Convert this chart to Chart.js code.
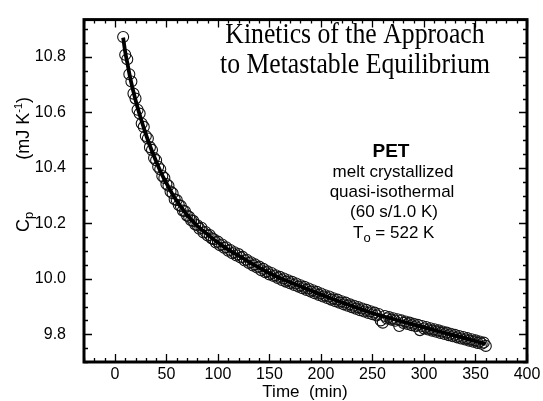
<!DOCTYPE html>
<html>
<head>
<meta charset="utf-8">
<script src="https://cdn.jsdelivr.net/npm/chart.js@4/dist/chart.umd.min.js"></script>
<style>
html,body{margin:0;padding:0;background:#fff;}
canvas{display:block;}
</style>
</head>
<body>
<canvas id="c" width="543" height="401"></canvas>
<script>
// Measured points (time in min, Cp in mJ/K)
const timeMin = [8,10,12,14,16,18,20,22,24,26,28,30,32,34,36,38,40,42,44,46,48,50,52,54,56,58,60,62,64,66,68,70,72,74,76,78,80,82,84,86,88,90,92,94,96,98,100,
102,104,106,108,110,112,114,116,118,120,122,124,126,128,130,132,134,136,138,140,142,144,146,148,150,152,154,156,158,160,162,164,166,168,170,172,174,176,178,180,
182,184,186,188,190,192,194,196,198,200,202,204,206,208,210,212,214,216,218,220,222,224,226,228,230,232,234,236,238,240,242,244,246,248,250,252,254,256,258,260,
262,264,266,268,270,272,274,276,278,280,282,284,286,288,290,292,294,296,298,300,302,304,306,308,310,312,314,316,318,320,322,324,326,328,330,332,334,336,338,340,
342,344,346,348,350,352,354,356,358,360];
const cpMeasured = [10.872,10.808,10.792,10.738,10.712,10.668,10.650,10.610,10.596,10.560,10.548,10.515,10.506,10.475,10.465,10.436,10.428,10.404,10.395,10.371,10.364,10.342,10.336,10.315,10.309,10.287,10.284,10.266,10.263,10.246,10.244,10.228,10.224,10.211,10.209,10.196,10.193,10.181,10.184,10.167,10.169,10.156,10.158,10.146,10.143,10.131,10.134,
10.121,10.124,10.112,10.114,10.101,10.104,10.092,10.096,10.084,10.089,10.077,10.079,10.066,10.069,10.057,10.060,10.048,10.052,10.041,10.044,10.031,10.036,10.024,10.027,10.016,10.021,10.010,10.013,10.003,10.007,9.996,10.001,9.990,9.995,9.984,9.989,9.978,9.983,9.972,9.977,
9.966,9.971,9.960,9.965,9.954,9.959,9.948,9.953,9.942,9.947,9.936,9.941,9.931,9.936,9.925,9.930,9.919,9.925,9.914,9.919,9.908,9.914,9.903,9.908,9.898,9.903,9.892,9.898,9.887,9.893,9.882,9.888,9.877,9.883,9.872,9.878,9.868,9.873,9.850,9.842,
9.866,9.857,9.862,9.853,9.858,9.849,9.854,9.830,9.850,9.841,9.846,9.837,9.842,9.833,9.838,9.829,9.834,9.815,9.830,9.821,9.826,9.817,9.822,9.813,9.818,9.809,9.814,9.805,9.810,9.801,9.806,9.797,9.802,9.793,9.798,9.789,9.794,9.785,9.790,9.781,
9.786,9.777,9.782,9.773,9.778,9.769,9.774,9.766,9.770,9.758];

// Fitted curve
const fitTime = [8,10,12,15,20,25,30,35,40,45,50,55,60,65,70,75,80,85,90,95,100,110,120,130,140,150,160,170,180,190,200,210,220,230,240,250,260,270,280,290,300,310,320,330,340,350,360];
const fitCp = [10.870,10.818,10.780,10.722,10.645,10.580,10.522,10.470,10.424,10.381,10.345,10.311,10.281,10.255,10.231,10.210,10.191,10.175,10.160,10.145,10.131,10.105,10.084,10.061,10.040,10.020,10.003,9.988,9.973,9.958,9.943,9.929,9.915,9.902,9.889,9.876,9.865,9.855,9.845,9.835,9.825,9.815,9.805,9.795,9.785,9.775,9.765];

const xTickLabels = ['0','50','100','150','200','250','300','350','400'];
const yTickLabels = ['9.8','10.0','10.2','10.4','10.6','10.8'];

const scatterPts = timeMin.map((t,i)=>({x:t,y:cpMeasured[i]}));
const fitPts = fitTime.map((t,i)=>({x:t,y:fitCp[i]}));

const SANS = '"Liberation Sans", Arial, sans-serif';
const SERIF = '"Liberation Serif", "DejaVu Serif", serif';

const decor = {
  id:'decor',
  afterDraw(chart){
    const ctx = chart.ctx;
    const a = chart.chartArea;
    const xs = chart.scales.x, ys = chart.scales.y;
    ctx.save();
    ctx.strokeStyle = '#000';
    // inward ticks
    ctx.lineWidth = 1.3;
    ctx.beginPath();
    for (let v = -30; v <= 400; v += 10) {
      const px = Math.round(xs.getPixelForValue(v)) + 0.5;
      const len = (v % 50 === 0) ? 8 : 4;
      ctx.moveTo(px, a.bottom); ctx.lineTo(px, a.bottom - len);
      ctx.moveTo(px, a.top); ctx.lineTo(px, a.top + len);
    }
    for (let k = 0; k * 0.05 + 9.70 <= 10.94; k++) {
      const v = 9.70 + k * 0.05;
      const py = Math.round(ys.getPixelForValue(v)) + 0.5;
      const len = (k % 4 === 2) ? 8 : 4;
      ctx.moveTo(a.left, py); ctx.lineTo(a.left + len, py);
      ctx.moveTo(a.right, py); ctx.lineTo(a.right - len, py);
    }
    ctx.stroke();
    // frame
    ctx.lineWidth = 3;
    ctx.strokeRect(a.left, a.top, a.right - a.left, a.bottom - a.top);

    ctx.fillStyle = '#000';
    // Title (condensed serif)
    ctx.font = '29px ' + SERIF;
    ctx.textBaseline = 'alphabetic';
    ctx.textAlign = 'left';
    const l1 = 'Kinetics of the Approach', l2 = 'to Metastable Equilibrium';
    const w2 = ctx.measureText(l2).width;
    const sx = 270 / w2;
    const w1 = ctx.measureText(l1).width * sx;
    const cx = 355;
    ctx.save(); ctx.translate(cx - w1/2, 43); ctx.scale(sx,1); ctx.fillText(l1,0,0); ctx.restore();
    ctx.save(); ctx.translate(cx - 135, 73); ctx.scale(sx,1); ctx.fillText(l2,0,0); ctx.restore();

    // Annotation block
    ctx.textAlign = 'center';
    ctx.font = 'bold 19px ' + SANS;
    ctx.fillText('PET', 391, 157);
    ctx.font = '17px ' + SANS;
    ctx.fillText('melt crystallized', 393, 177);
    ctx.fillText('quasi-isothermal', 392, 197);
    ctx.fillText('(60 s/1.0 K)', 394, 217);
    // T_o = 522 K
    ctx.textAlign = 'left';
    const tx = 353;
    ctx.fillText('T', tx, 238);
    const tw = ctx.measureText('T').width;
    ctx.font = '13px ' + SANS;
    ctx.fillText('o', tx + tw, 242);
    const ow = ctx.measureText('o').width;
    ctx.font = '17px ' + SANS;
    ctx.fillText(' = 522 K', tx + tw + ow, 238);

    // x-axis title
    ctx.textAlign = 'center';
    ctx.font = '17px ' + SANS;
    ctx.fillText('Time  (min)', 305, 397);

    // y-axis title (rotated)
    ctx.save();
    ctx.translate(29, 232);
    ctx.rotate(-Math.PI/2);
    ctx.textAlign = 'left';
    ctx.font = '18px ' + SANS;
    ctx.fillText('C', 0, 0);
    let cw = ctx.measureText('C').width;
    ctx.font = '13px ' + SANS;
    ctx.fillText('p', cw, 4);
    ctx.font = '18px ' + SANS;
    const pA = '(mJ K', pC = ')';
    const wA = ctx.measureText(pA).width, wC = ctx.measureText(pC).width;
    ctx.font = '11px ' + SANS;
    const wB = ctx.measureText('-1').width;
    const end = 135;
    let start = end - (wA + wB + wC);
    ctx.font = '18px ' + SANS;
    ctx.fillText(pA, start, 0);
    ctx.font = '11px ' + SANS;
    ctx.fillText('-1', start + wA, -7);
    ctx.font = '18px ' + SANS;
    ctx.fillText(pC, start + wA + wB, 0);
    ctx.restore();

    ctx.restore();
  }
};

new Chart(document.getElementById('c'), {
  type: 'scatter',
  data: {
    datasets: [
      {
        type: 'line',
        data: fitPts,
        borderColor: '#000',
        borderWidth: 3.8,
        pointRadius: 0,
        fill: false,
        cubicInterpolationMode: 'monotone'
      },
      {
        data: scatterPts,
        pointStyle: 'circle',
        pointRadius: 5.5,
        borderColor: '#111',
        borderWidth: 1.1,
        backgroundColor: 'rgba(0,0,0,0)'
      }
    ]
  },
  options: {
    responsive: false,
    devicePixelRatio: 1,
    animation: false,
    layout: { padding: { top: 14, right: 16, left: 0, bottom: 0 } },
    plugins: { legend: { display: false }, tooltip: { enabled: false } },
    scales: {
      x: {
        type: 'linear',
        min: -30, max: 400,
        grid: { display: false },
        border: { display: false },
        afterFit(s){ s.height = 39; },
        ticks: {
          stepSize: 50,
          includeBounds: false,
          padding: -5,
          color: '#000',
          font: { family: SANS, size: 16 },
          maxRotation: 0,
          callback(v){ const i = Math.round(v/50); return (Math.abs(v - i*50) < 1e-6 && xTickLabels[i] !== undefined) ? xTickLabels[i] : null; }
        }
      },
      y: {
        type: 'linear',
        min: 9.70, max: 10.935,
        grid: { display: false },
        border: { display: false },
        afterFit(s){ s.width = 84; },
        ticks: {
          stepSize: 0.2,
          includeBounds: false,
          padding: 10,
          color: '#000',
          font: { family: SANS, size: 16 },
          callback(v){ const i = Math.round((v - 9.8)/0.2); return (Math.abs(v - (9.8 + i*0.2)) < 1e-6 && yTickLabels[i] !== undefined) ? yTickLabels[i] : null; }
        }
      }
    }
  },
  plugins: [decor]
});
</script>
</body>
</html>
